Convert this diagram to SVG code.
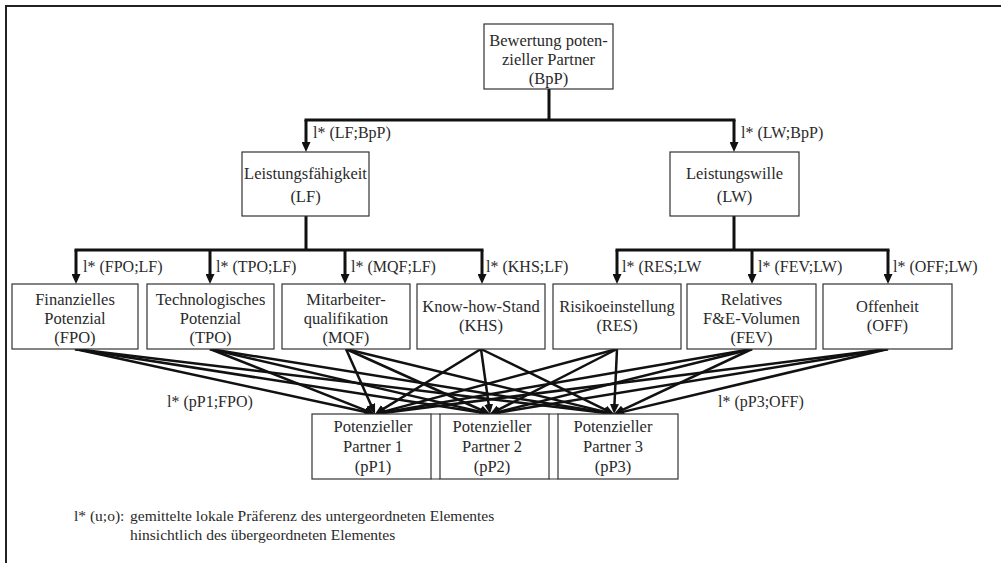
<svg xmlns="http://www.w3.org/2000/svg" width="1001" height="563" viewBox="0 0 1001 563">
  <defs>
    <marker id="arrow" viewBox="0 0 10 9" refX="4" refY="4.5" markerWidth="10" markerHeight="9" markerUnits="userSpaceOnUse" orient="auto">
      <path d="M0,0 L10,4.5 L0,9 z" fill="#111"/>
    </marker>
    <style>
      .box { fill: #fff; stroke: #333; stroke-width: 1.2; }
      text { font-family: 'Liberation Serif', 'Tinos', 'Times New Roman', 'DejaVu Serif', serif; fill: #2a2a2a; }
      .t { font-size: 16.5px; text-anchor: middle; }
      .lbl { font-size: 16px; }
      .note { font-size: 15.5px; }
      .tree { fill: none; stroke: #111; stroke-width: 3; }
      .arr { fill: none; stroke: #111; stroke-width: 3; marker-end: url(#arrow); }
      .link { fill: none; stroke: #111; stroke-width: 2.5; marker-end: url(#arrow); }
    </style>
  </defs>

  <rect width="1001" height="563" fill="#fff"/>
  <!-- outer frame -->
  <path d="M6,563 V6 H1001" fill="none" stroke="#222" stroke-width="2"/>

  <!-- connectors -->
  <g id="connectors">
    <!-- level 1 -->
    <path class="tree" d="M549,89 V120 M304.5,120 H735.5"/>
    <path class="arr" d="M306,120 V146"/>
    <path class="arr" d="M734,120 V146"/>
    <!-- level 2 -->
    <path class="tree" d="M306,216 V250 M74.5,250 H483.5"/>
    <path class="arr" d="M76,250 V278"/>
    <path class="arr" d="M210,250 V278"/>
    <path class="arr" d="M345,250 V278"/>
    <path class="arr" d="M482,250 V278"/>
    <path class="tree" d="M734,216 V250 M615.5,250 H889.5"/>
    <path class="arr" d="M617,250 V278"/>
    <path class="arr" d="M752,250 V278"/>
    <path class="arr" d="M888,250 V278"/>
    <!-- criteria to partners -->
    <path class="link" d="M75,349 L369.1,412.7"/>
    <path class="link" d="M75,349 L484.1,413.1"/>
    <path class="link" d="M75,349 L608.0,413.3"/>
    <path class="link" d="M210,349 L369.4,411.8"/>
    <path class="link" d="M210,349 L484.2,412.6"/>
    <path class="link" d="M210,349 L608.1,413.0"/>
    <path class="link" d="M346,349 L372.6,408.5"/>
    <path class="link" d="M346,349 L484.5,411.5"/>
    <path class="link" d="M346,349 L608.2,412.6"/>
    <path class="link" d="M481,349 L380.1,410.9"/>
    <path class="link" d="M481,349 L489.2,408.1"/>
    <path class="link" d="M481,349 L608.6,411.4"/>
    <path class="link" d="M617,349 L380.8,412.4"/>
    <path class="link" d="M617,349 L495.3,411.3"/>
    <path class="link" d="M617,349 L614.3,408.0"/>
    <path class="link" d="M752,349 L380.9,413.0"/>
    <path class="link" d="M752,349 L495.8,412.6"/>
    <path class="link" d="M752,349 L619.4,411.4"/>
    <path class="link" d="M888,349 L381.0,413.2"/>
    <path class="link" d="M888,349 L495.9,413.0"/>
    <path class="link" d="M888,349 L619.8,412.6"/>
    <!-- labels -->
    <text class="lbl" x="313" y="138">l* (LF;BpP)</text>
    <text class="lbl" x="741" y="138">l* (LW;BpP)</text>
    <text class="lbl" x="83" y="272">l* (FPO;LF)</text>
    <text class="lbl" x="216" y="272">l* (TPO;LF)</text>
    <text class="lbl" x="351" y="272">l* (MQF;LF)</text>
    <text class="lbl" x="486" y="272">l* (KHS;LF)</text>
    <text class="lbl" x="622" y="272">l* (RES;LW</text>
    <text class="lbl" x="758" y="272">l* (FEV;LW)</text>
    <text class="lbl" x="893" y="272">l* (OFF;LW)</text>
    <text class="lbl" x="167" y="407">l* (pP1;FPO)</text>
    <text class="lbl" x="718" y="407">l* (pP3;OFF)</text>
  </g>

  <!-- goal -->
  <g id="BpP">
    <rect class="box" x="484" y="24" width="129" height="65"/>
    <text class="t" x="548.5" y="46">Bewertung poten-</text>
    <text class="t" x="548.5" y="65">zieller Partner</text>
    <text class="t" x="548.5" y="84">(BpP)</text>
  </g>

  <!-- main criteria -->
  <g id="LF">
    <rect class="box" x="242" y="152" width="127" height="64"/>
    <text class="t" x="305.5" y="179">Leistungsfähigkeit</text>
    <text class="t" x="305.5" y="202">(LF)</text>
  </g>
  <g id="LW">
    <rect class="box" x="670" y="152" width="129" height="64"/>
    <text class="t" x="734.5" y="179">Leistungswille</text>
    <text class="t" x="734.5" y="202">(LW)</text>
  </g>

  <!-- sub criteria -->
  <g id="FPO">
    <rect class="box" x="12" y="284" width="126" height="65"/>
    <text class="t" x="75" y="305">Finanzielles</text>
    <text class="t" x="75" y="324">Potenzial</text>
    <text class="t" x="75" y="343">(FPO)</text>
  </g>
  <g id="TPO">
    <rect class="box" x="147" y="284" width="127" height="65"/>
    <text class="t" x="210.5" y="305">Technologisches</text>
    <text class="t" x="210.5" y="324">Potenzial</text>
    <text class="t" x="210.5" y="343">(TPO)</text>
  </g>
  <g id="MQF">
    <rect class="box" x="282" y="284" width="128" height="65"/>
    <text class="t" x="346" y="305">Mitarbeiter-</text>
    <text class="t" x="346" y="324">qualifikation</text>
    <text class="t" x="346" y="343">(MQF)</text>
  </g>
  <g id="KHS">
    <rect class="box" x="417" y="284" width="128" height="65"/>
    <text class="t" x="481" y="312">Know-how-Stand</text>
    <text class="t" x="481" y="331">(KHS)</text>
  </g>
  <g id="RES">
    <rect class="box" x="553" y="284" width="128" height="65"/>
    <text class="t" x="617" y="312">Risikoeinstellung</text>
    <text class="t" x="617" y="331">(RES)</text>
  </g>
  <g id="FEV">
    <rect class="box" x="687" y="284" width="129" height="65"/>
    <text class="t" x="751.5" y="305">Relatives</text>
    <text class="t" x="751.5" y="324">F&amp;E-Volumen</text>
    <text class="t" x="751.5" y="343">(FEV)</text>
  </g>
  <g id="OFF">
    <rect class="box" x="823" y="284" width="129" height="65"/>
    <text class="t" x="887.5" y="312">Offenheit</text>
    <text class="t" x="887.5" y="331">(OFF)</text>
  </g>

  <!-- alternatives -->
  <g id="partner-frame">
    <path d="M431,414 H440 M431,479 H440 M549,414 H558 M549,479 H558" fill="none" stroke="#333" stroke-width="1.2"/>
  </g>
  <g id="pP1">
    <rect class="box" x="312" y="414" width="119" height="65"/>
    <text class="t" x="373" y="432">Potenzieller</text>
    <text class="t" x="373" y="452">Partner 1</text>
    <text class="t" x="373" y="472">(pP1)</text>
  </g>
  <g id="pP2">
    <rect class="box" x="440" y="414" width="109" height="65"/>
    <text class="t" x="492" y="432">Potenzieller</text>
    <text class="t" x="492" y="452">Partner 2</text>
    <text class="t" x="492" y="472">(pP2)</text>
  </g>
  <g id="pP3">
    <rect class="box" x="558" y="414" width="120" height="65"/>
    <text class="t" x="613" y="432">Potenzieller</text>
    <text class="t" x="613" y="452">Partner 3</text>
    <text class="t" x="613" y="472">(pP3)</text>
  </g>

  <!-- legend -->
  <g id="legend">
    <text class="note" x="74" y="521">l* (u;o):</text>
    <text class="note" x="130" y="521">gemittelte lokale Präferenz des untergeordneten Elementes</text>
    <text class="note" x="130" y="540">hinsichtlich des übergeordneten Elementes</text>
  </g>
</svg>
